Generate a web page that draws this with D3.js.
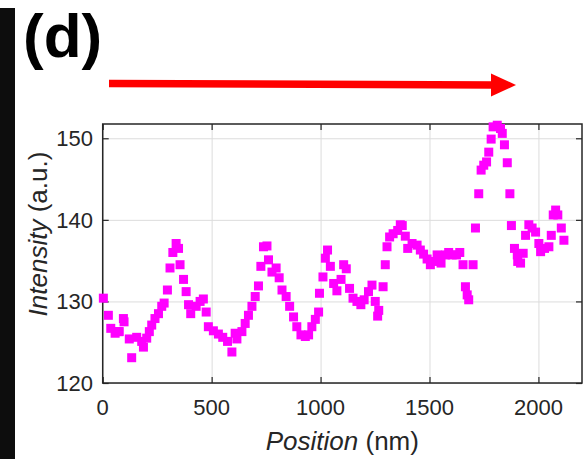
<!DOCTYPE html>
<html>
<head>
<meta charset="utf-8">
<script src="https://cdn.jsdelivr.net/npm/d3@7"></script>
<style>
  body { margin: 0; background: #fff; }
  svg { display: block; font-family: "Liberation Sans", Arial, sans-serif; }
</style>
</head>
<body>
<div id="chart"></div>
<script>
// Line profile data (position in nm, intensity in a.u.)
const positions = [3, 26, 37, 57, 72, 76, 95, 98, 122, 133, 156, 179, 187, 202, 214, 225, 240, 256, 271, 282,
  297, 309, 322, 337, 348, 355, 371, 383, 394, 404, 429, 447, 462, 475, 485, 508, 531, 551, 573, 593,
  608, 616, 639, 654, 669, 685, 700, 715, 726, 738, 754, 761, 777, 796, 810, 823, 842, 858, 876, 891,
  910, 930, 945, 960, 976, 991, 995, 1011, 1022, 1032, 1045, 1060, 1075, 1094, 1106, 1118, 1133, 1149, 1167, 1185,
  1200, 1220, 1236, 1251, 1262, 1267, 1287, 1297, 1305, 1317, 1333, 1354, 1366, 1375, 1389, 1400, 1420, 1443, 1458, 1473,
  1489, 1504, 1519, 1535, 1553, 1573, 1588, 1604, 1624, 1639, 1654, 1665, 1673, 1680, 1700, 1711, 1726, 1737, 1749, 1762,
  1772, 1783, 1792, 1811, 1826, 1834, 1844, 1857, 1869, 1876, 1890, 1903, 1905, 1918, 1930, 1941, 1956, 1971, 1987, 2002,
  2010, 2028, 2048, 2059, 2068, 2079, 2089, 2105, 2117];
const intensities = [130.4, 128.3, 126.7, 126.1, 126.3, 126.3, 127.9, 127.5, 125.4, 123.1, 125.6, 125.1, 124.4, 125.5, 126.3, 127.1, 127.9, 128.5, 129.4, 129.8,
  131.4, 134.1, 136.0, 137.1, 136.5, 134.5, 132.7, 131.2, 129.6, 128.5, 129.4, 130.0, 130.3, 128.7, 126.9, 126.4, 126.0, 125.6, 125.1, 123.8,
  126.1, 125.4, 126.3, 127.3, 128.3, 129.4, 130.6, 131.9, 134.3, 136.7, 136.8, 135.1, 133.6, 134.1, 132.9, 131.4, 130.6, 129.4, 128.1, 126.9,
  125.9, 125.7, 125.9, 126.9, 127.8, 128.7, 131.0, 133.0, 135.3, 136.3, 134.3, 132.2, 131.3, 132.7, 134.5, 134.0, 131.6, 130.4, 130.0, 129.6,
  130.2, 131.2, 132.0, 130.0, 128.2, 128.9, 131.8, 134.5, 136.7, 137.9, 138.3, 138.7, 139.4, 139.3, 138.0, 136.5, 137.1, 136.9, 136.3, 135.8,
  135.2, 134.5, 134.9, 135.7, 134.7, 135.7, 136.0, 135.7, 135.7, 136.0, 134.5, 131.8, 130.8, 130.2, 134.5, 139.0, 143.2, 146.1, 146.7, 147.1,
  148.3, 149.9, 151.4, 151.6, 151.2, 150.6, 149.2, 147.0, 143.2, 139.3, 136.5, 135.7, 134.9, 134.7, 135.9, 138.1, 139.4, 139.0, 138.5, 137.1,
  136.1, 136.5, 136.7, 138.1, 140.6, 141.2, 140.6, 139.0, 137.5];

const xTicks = [0, 500, 1000, 1500, 2000];
const yTicks = [120, 130, 140, 150];
const xDomain = [0, 2200];
const yDomain = [120, 151.75];

const width = 584, height = 459;
const plot = { left: 102.7, right: 582, top: 124, bottom: 383 };

const svg = d3.select("#chart").append("svg")
  .attr("width", width)
  .attr("height", height);

// dark strip at the left edge (cropped neighbour panel)
svg.append("rect")
  .attr("x", 0).attr("y", 8)
  .attr("width", 15).attr("height", height - 8)
  .attr("fill", "#0d0d0d");

// panel label
svg.append("text")
  .attr("x", 23).attr("y", 57)
  .attr("font-size", 62)
  .attr("font-weight", "bold")
  .attr("fill", "#000")
  .text("(d)");

// red arrow
svg.append("line")
  .attr("x1", 109).attr("y1", 83.5)
  .attr("x2", 494).attr("y2", 85)
  .attr("stroke", "#ff0000")
  .attr("stroke-width", 7.5);
svg.append("path")
  .attr("d", "M491,73.5 L516,85 L491,96.5 Z")
  .attr("fill", "#ff0000");

const x = d3.scaleLinear().domain(xDomain).range([plot.left, plot.right]);
const y = d3.scaleLinear().domain(yDomain).range([plot.bottom, plot.top]);

const plotW = plot.right - plot.left;
const plotH = plot.bottom - plot.top;

// grid
svg.append("g")
  .attr("transform", `translate(0,${plot.bottom})`)
  .call(d3.axisBottom(x).tickValues(xTicks).tickSize(-plotH).tickFormat(""))
  .call(g => g.select(".domain").remove())
  .call(g => g.selectAll("line").attr("stroke", "#dcdcdc").attr("stroke-width", 1));
svg.append("g")
  .attr("transform", `translate(${plot.left},0)`)
  .call(d3.axisLeft(y).tickValues(yTicks).tickSize(-plotW).tickFormat(""))
  .call(g => g.select(".domain").remove())
  .call(g => g.selectAll("line").attr("stroke", "#dcdcdc").attr("stroke-width", 1));

// inward ticks on all four sides
const tickLen = 6;
const axStyle = g => {
  g.select(".domain").remove();
  g.selectAll("line").attr("stroke", "#262626").attr("stroke-width", 1.2);
};
svg.append("g").attr("transform", `translate(0,${plot.bottom})`)
  .call(d3.axisBottom(x).tickValues(xTicks).tickSize(-tickLen).tickFormat("")).call(axStyle);
svg.append("g").attr("transform", `translate(0,${plot.top})`)
  .call(d3.axisTop(x).tickValues(xTicks).tickSize(-tickLen).tickFormat("")).call(axStyle);
svg.append("g").attr("transform", `translate(${plot.left},0)`)
  .call(d3.axisLeft(y).tickValues(yTicks).tickSize(-tickLen).tickFormat("")).call(axStyle);
svg.append("g").attr("transform", `translate(${plot.right},0)`)
  .call(d3.axisRight(y).tickValues(yTicks).tickSize(-tickLen).tickFormat("")).call(axStyle);

// box
svg.append("rect")
  .attr("x", plot.left).attr("y", plot.top)
  .attr("width", plotW).attr("height", plotH)
  .attr("fill", "none")
  .attr("stroke", "#262626")
  .attr("stroke-width", 1.5);

// tick labels
svg.append("g").selectAll("text")
  .data(xTicks).join("text")
  .attr("x", d => x(d)).attr("y", 415)
  .attr("text-anchor", "middle")
  .attr("font-size", 22)
  .attr("fill", "#262626")
  .text(d => d);
svg.append("g").selectAll("text")
  .data(yTicks).join("text")
  .attr("x", 93).attr("y", d => y(d))
  .attr("dy", "0.36em")
  .attr("text-anchor", "end")
  .attr("font-size", 22)
  .attr("fill", "#262626")
  .text(d => d);

// axis titles
const xl = svg.append("text")
  .attr("x", (plot.left + plot.right) / 2).attr("y", 450)
  .attr("text-anchor", "middle")
  .attr("font-size", 26)
  .attr("fill", "#262626");
xl.append("tspan").attr("font-style", "italic").text("Position");
xl.append("tspan").text(" (nm)");

const yl = svg.append("text")
  .attr("transform", "translate(47,234) rotate(-90)")
  .attr("text-anchor", "middle")
  .attr("font-size", 26)
  .attr("fill", "#262626");
yl.append("tspan").attr("font-style", "italic").text("Intensity");
yl.append("tspan").text(" (a.u.)");

// data markers
const s = 9;
svg.append("g").selectAll("rect")
  .data(positions.map((p, i) => ({ p, v: intensities[i] })))
  .join("rect")
  .attr("x", d => x(d.p) - s / 2)
  .attr("y", d => y(d.v) - s / 2)
  .attr("width", s).attr("height", s)
  .attr("fill", "#ff00ff");
</script>
</body>
</html>
